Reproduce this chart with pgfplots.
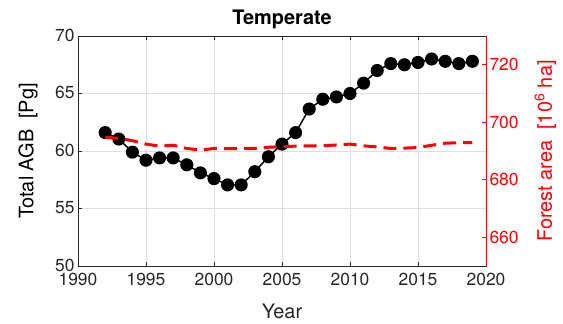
\documentclass[border=0pt]{standalone}
\usepackage{fontspec}
\setmainfont{TeX Gyre Heros}
\usepackage{pgfplots}
\pgfplotsset{compat=1.18}
\begin{document}
\begin{tikzpicture}
\pgfplotsset{
  common/.style={
    scale only axis, width=408bp, height=230bp, at={(0,0)}, anchor=south west,
    xmin=1990, xmax=2020,
    /pgf/number format/assume math mode=true,
    /pgf/number format/1000 sep={},
    tick label style={font=\fontsize{17.5}{20}\selectfont},
    label style={font=\fontsize{20}{22}\selectfont},
    tick align=inside, major tick length=4bp,
  }
}
\begin{axis}[common,
  ymin=50, ymax=70,
  xtick={1990,1995,...,2020}, ytick={50,55,...,70},
  ytick pos=left,
  tick label style={text=black!85},
  grid=major, major grid style={black!13, line width=0.6pt},
  axis line style={black!85, line width=0.6pt},
  tick style={black!85, line width=0.6pt},
  xlabel={Year},
  xlabel style={at={(axis description cs:0.5,-0.196)}, anchor=center, text=black!85},
  ylabel={Total AGB\ \ [Pg]},
  ylabel style={at={(axis description cs:-0.122,0.5)}, anchor=center, rotate=0},
  title={\textbf{Temperate}},
  title style={at={(axis description cs:0.5,1)}, anchor=base, yshift=6bp, font=\fontsize{20}{22}\selectfont},
  xticklabel style={yshift=-4bp},
  yticklabel style={yshift=1bp},
]
\addplot[black, line width=1.5pt, mark=*, mark size=5.8bp, mark options={fill=black}] coordinates {
(1992,61.6) (1993,61.04) (1994,59.9) (1995,59.2) (1996,59.4) (1997,59.4)
(1998,58.8) (1999,58.1) (2000,57.6) (2001,57.05) (2002,57.05) (2003,58.2)
(2004,59.5) (2005,60.6) (2006,61.6) (2007,63.65) (2008,64.5) (2009,64.7)
(2010,65.0) (2011,65.9) (2012,67.0) (2013,67.6) (2014,67.5) (2015,67.7)
(2016,68.0) (2017,67.8) (2018,67.6) (2019,67.8)
};
\end{axis}
\begin{axis}[common,
  ymin=650, ymax=730,
  axis x line=none, axis y line*=right,
  ytick={660,680,700,720},
  y axis line style={red, line width=0.6pt},
  ytick style={red, line width=0.6pt},
  yticklabel style={text=red},
  ylabel={Forest area\ \ [10\textsuperscript{6} ha]},
  ylabel style={at={(axis description cs:1.145,0.5)}, anchor=center, rotate=0, text=red},
]
\addplot[red, line width=3pt, dash pattern=on 13bp off 7bp] coordinates {
(1992,694.7) (1993,694.4) (1994,693.6) (1995,692.4) (1996,691.7) (1997,692.0)
(1998,690.9) (1999,690.3) (2000,690.9) (2001,690.8) (2002,690.9) (2003,690.9)
(2004,691.3) (2005,691.5) (2006,691.7) (2007,691.8) (2008,691.8) (2009,692.1)
(2010,692.4) (2011,691.8) (2012,691.4) (2013,690.9) (2014,691.0) (2015,691.2)
(2016,692.0) (2017,692.7) (2018,692.9) (2019,692.9)
};
\end{axis}
\pgfresetboundingbox
\path (-78bp,-58bp) rectangle (485bp,266bp);
\end{tikzpicture}
\end{document}
